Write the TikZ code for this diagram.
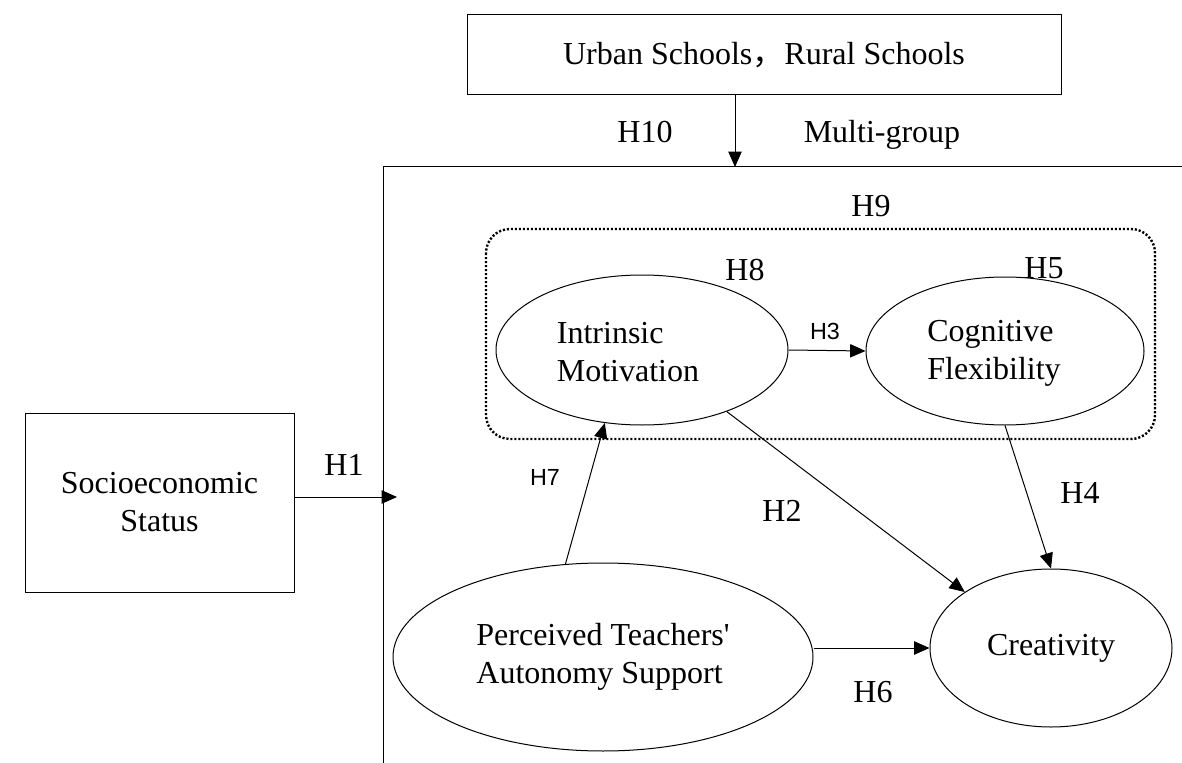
\documentclass[tikz,border=0pt]{standalone}
\usepackage{fontspec}
\setmainfont{Liberation Serif}
\newfontfamily\sansf{Liberation Sans}
\newfontfamily\cjk{Noto Sans CJK SC}
\usetikzlibrary{shapes.geometric,arrows.meta}
\tikzset{every picture/.style={line width=0.75pt}}

\begin{document}
\begin{tikzpicture}[x=0.75pt,y=0.75pt,yscale=-1,xscale=1,
  box/.style={draw,inner sep=0pt},
  latent/.style={draw,ellipse,inner sep=0pt},
  txt/.style={inner sep=0.75pt,font=\fontsize{24}{28.5}\selectfont},
  hlab/.style={inner sep=0.75pt,anchor=base,font=\fontsize{24}{28}\selectfont},
  hsans/.style={inner sep=0.75pt,anchor=base,font=\sansf\fontsize{17.5}{20}\selectfont},
  arr/.style={-{Triangle[length=11.5pt,width=10pt]}}]
\useasboundingbox (0,0) rectangle (1182,763);

%Shape: Rectangle [groups]
\node[box,txt,minimum width=445.5pt,minimum height=60pt] (ub) at (764,55) {Urban Schools{\cjk ，}Rural Schools};
%Shape: Rectangle [ses]
\node[box,txt,align=center,minimum width=201.75pt,minimum height=134.25pt] (ses) at (159.5,502.5) {Socioeconomic\\Status};

%Straight Lines [model frame]
\draw (383,763) -- (383,167) -- (1182,167);
\coordinate (mg) at (735,167);
\coordinate (h1end) at (397,497);

%Shape: Rounded Rectangle [mediators]
\draw[line width=1.8pt,dash pattern=on 1.6pt off 1.4pt,rounded corners=18pt] (486,229) rectangle (1155,439);

%Shape: Ellipse
\node[latent,minimum width=219pt,minimum height=112.5pt] (im) at (642,350) {};
\node[txt,align=left] (imtxt) at (628,352) {Intrinsic\\Motivation};
%Shape: Ellipse
\node[latent,minimum width=208.5pt,minimum height=111pt] (cf) at (1005,351) {};
\node[txt,align=left] (cftxt) at (994,353) {Cognitive\\Flexibility};
%Shape: Ellipse
\node[latent,txt,minimum width=181.5pt,minimum height=118.5pt] (cr) at (1051,648) {Creativity};
%Shape: Ellipse
\node[latent,txt,align=left,minimum width=315pt,minimum height=141pt] (pt) at (603,657) {Perceived Teachers\textquotesingle\\Autonomy Support};

%Straight Lines
\draw[arr] (ub.south -| mg) -- (mg);
\draw[arr] (ses.east |- h1end) -- (h1end);
\draw[arr] (im.east) -- (cf.west);
\draw[arr] (im.-36) -- (cr.147);
\draw[arr] (cf.south) -- (cr.north);
\draw[arr] (pt.east |- cr.west) -- (cr.west);
\draw[arr] (pt.112) -- (im.-117);

% Text Node
\node[hlab] (h10) at (645,143) {H10};
\node[hlab] (mgl) at (882,143) {Multi-group};
\node[hlab] (h9) at (871,217) {H9};
\node[hlab] (h8) at (745,280) {H8};
\node[hlab] (h5) at (1044,278) {H5};
\node[hsans] (h3) at (825,339) {H3};
\node[hlab] (h1) at (344,475) {H1};
\node[hsans] (h7) at (545,485) {H7};
\node[hlab] (h2) at (782,521) {H2};
\node[hlab] (h4) at (1080,503) {H4};
\node[hlab] (h6) at (873,702) {H6};

\end{tikzpicture}
\end{document}
